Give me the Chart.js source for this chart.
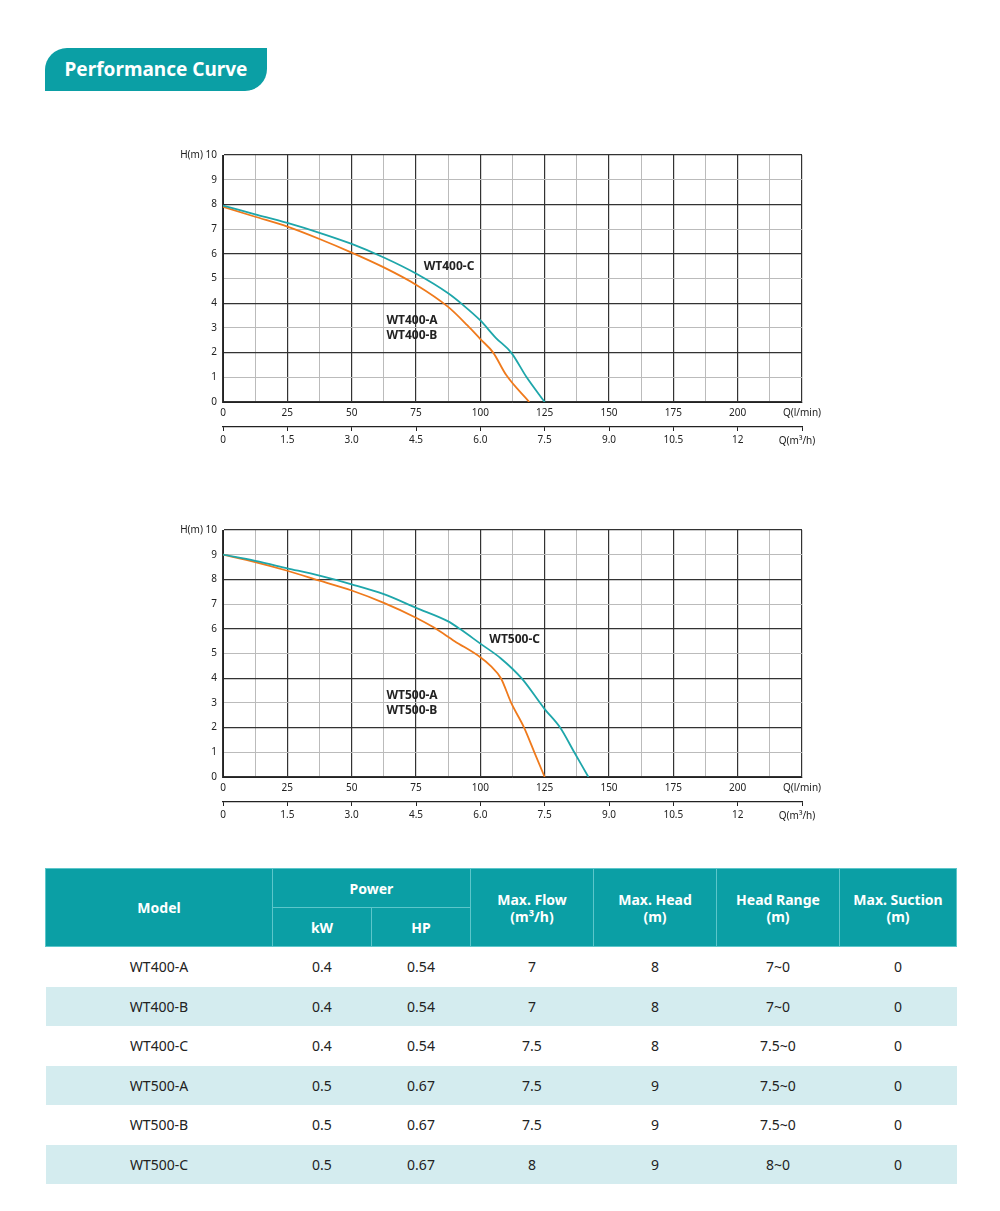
<!DOCTYPE html>
<html><head><meta charset="utf-8">
<script src="https://cdn.jsdelivr.net/npm/chart.js@4/dist/chart.umd.min.js"></script>
<style>
body{margin:0;width:1000px;height:1211px;background:#fff;font-family:"Noto Sans",sans-serif;position:relative}
.pill{position:absolute;left:45px;top:48px;width:222px;height:43px;background:#0b9fa5;color:#fff;font-weight:bold;font-size:19px;line-height:43px;text-align:center;border-radius:22px 0 22px 0}
.cv{position:absolute;left:160px;width:680px;height:320px}
table{position:absolute;left:45px;top:868px;width:912px;border-collapse:collapse;font-size:14px;color:#222}
th{background:#0b9fa5;color:#fff;font-weight:bold;border:1px solid #5cc6ca;height:38px;padding:0;line-height:17px}
td{text-align:center;height:39.5px;padding:0}
tr.alt td{background:#d4ecef}
</style></head><body>
<div class="pill">Performance Curve</div>
<div class="cv" style="top:140px"><canvas id="c1" width="680" height="320"></canvas></div>
<div class="cv" style="top:515px"><canvas id="c2" width="680" height="320"></canvas></div>
<table>
<tr><th rowspan="2" style="width:226px">Model</th><th colspan="2">Power</th><th rowspan="2" style="width:122px">Max. Flow<br>(m³/h)</th><th rowspan="2" style="width:122px">Max. Head<br>(m)</th><th rowspan="2" style="width:122px">Head Range<br>(m)</th><th rowspan="2">Max. Suction<br>(m)</th></tr>
<tr><th style="width:98px">kW</th><th style="width:98px">HP</th></tr>
<tbody id="tb"></tbody>
</table>
<script>
// curve points: flow in l/min, head in m
var wt400C = [[0,7.95],[12.5,7.6],[25,7.25],[37.5,6.85],[50,6.4],[62.5,5.85],[75,5.2],[87.5,4.4],[93,3.95],[100,3.3],[106,2.6],[112,2.0],[118,1.0],[125,0]];
var wt400AB = [[0,7.9],[12.5,7.5],[25,7.1],[37.5,6.6],[50,6.05],[62.5,5.45],[75,4.75],[87.5,3.85],[95,3.1],[100,2.55],[105,2.0],[110,1.1],[119,0]];
var wt500C = [[0,9],[12.5,8.75],[25,8.45],[37.5,8.15],[50,7.8],[62.5,7.4],[75,6.85],[87.5,6.3],[92,6.0],[100,5.4],[108,4.8],[116,4.0],[125,2.75],[131,2.0],[136.5,1.0],[142,0]];
var wt500AB = [[0,9],[12.5,8.7],[25,8.35],[37.5,7.95],[50,7.55],[62.5,7.05],[75,6.45],[82,6.05],[90,5.5],[100,4.85],[104,4.5],[108,4.0],[112,3.0],[117,2.0],[121,1.0],[125,0]];

var models = ['WT400-A','WT400-B','WT400-C','WT500-A','WT500-B','WT500-C'];
var powerKw = ['0.4','0.4','0.4','0.5','0.5','0.5'];
var powerHp = ['0.54','0.54','0.54','0.67','0.67','0.67'];
var maxFlow = ['7','7','7.5','7.5','7.5','8'];
var maxHead = ['8','8','8','9','9','9'];
var headRange = ['7~0','7~0','7.5~0','7.5~0','7.5~0','8~0'];
var maxSuction = ['0','0','0','0','0','0'];
var m3hLabels = {0:'0',25:'1.5',50:'3.0',75:'4.5',100:'6.0',125:'7.5',150:'9.0',175:'10.5',200:'12'};

var tb = document.getElementById('tb');
models.forEach(function(m, i) {
    var tr = document.createElement('tr');
    if (i % 2 == 1) tr.className = 'alt';
    [m, powerKw[i], powerHp[i], maxFlow[i], maxHead[i], headRange[i], maxSuction[i]].forEach(function(v) {
        var td = document.createElement('td'); td.textContent = v; tr.appendChild(td);
    });
    tb.appendChild(tr);
});

var TEAL = '#1ea6aa', ORANGE = '#ef7a1c';
var tickFont = {family: '"Noto Sans", sans-serif', size: 10};

function pts(a) { return a.map(function(p) { return {x: p[0], y: p[1]}; }); }

function makeChart(id, cData, abData, labels) {
    new Chart(document.getElementById(id), {
        type: 'line',
        data: {datasets: [
            {data: pts(cData), borderColor: TEAL, borderWidth: 1.8, pointRadius: 0, tension: 0.4, cubicInterpolationMode: 'monotone'},
            {data: pts(abData), borderColor: ORANGE, borderWidth: 1.8, pointRadius: 0, tension: 0.4, cubicInterpolationMode: 'monotone'}
        ]},
        options: {
            responsive: false, animation: false,
            layout: {padding: {top: 15, right: 38, bottom: 3, left: 0}},
            plugins: {legend: {display: false}, tooltip: {enabled: false}},
            scales: {
                x: {type: 'linear', min: 0, max: 225, position: 'bottom',
                    afterFit: function(s) { s.height = 25; },
                    border: {color: '#222', width: 1},
                    grid: {color: function(c) { return c.tick.value % 25 == 0 ? '#333' : '#bbb'; }, lineWidth: function(c) { return c.tick.value % 25 == 0 ? 1.2 : 1; }, tickLength: 0},
                    ticks: {stepSize: 12.5, autoSkip: false, maxRotation: 0, color: '#222', font: tickFont, padding: 5,
                        callback: function(v) { return (v % 25 == 0 && v < 225) ? v : ''; }}},
                x2: {type: 'linear', min: 0, max: 225, position: 'bottom',
                    afterFit: function(s) { s.height = 30; },
                    border: {color: '#222', width: 1.2},
                    grid: {drawOnChartArea: false, tickLength: 4, color: '#222',
                        display: true},
                    ticks: {stepSize: 25, autoSkip: false, maxRotation: 0, color: '#222', font: tickFont, padding: 3,
                        callback: function(v) { return m3hLabels[v] || ''; }}},
                y: {min: 0, max: 10,
                    afterFit: function(s) { s.width = 63; },
                    border: {color: '#222'},
                    grid: {color: function(c) { return c.tick.value % 2 == 0 ? '#333' : '#bbb'; }, lineWidth: function(c) { return c.tick.value % 2 == 0 ? 1.2 : 1; }, tickLength: 0},
                    ticks: {stepSize: 1, color: '#222', font: tickFont, padding: 6,
                        callback: function(v) { return v == 10 ? 'H(m) 10' : v; }}}
            }
        },
        plugins: [{
            id: 'notes',
            afterDraw: function(ch) {
                var c = ch.ctx, x = ch.scales.x, y = ch.scales.y, a = ch.chartArea;
                c.save();
                c.fillStyle = '#222';
                c.font = '10px "Noto Sans", sans-serif';
                c.textAlign = 'center'; c.textBaseline = 'middle';
                c.fillText('Q(l/min)', a.right, a.bottom + 11);
                c.fillText('Q(m³/h)', a.right - 5, a.bottom + 39);
                c.font = 'bold 12px "Noto Sans", sans-serif';
                c.textAlign = 'left';
                labels.forEach(function(l) { c.fillText(l[0], x.getPixelForValue(l[1]), y.getPixelForValue(l[2])); });
                c.restore();
            }
        }]
    });
}

makeChart('c1', wt400C, wt400AB, [['WT400-C', 78, 5.5], ['WT400-A', 63.5, 3.3], ['WT400-B', 63.5, 2.7]]);
makeChart('c2', wt500C, wt500AB, [['WT500-C', 103.5, 5.55], ['WT500-A', 63.5, 3.3], ['WT500-B', 63.5, 2.7]]);
</script>
</body></html>
